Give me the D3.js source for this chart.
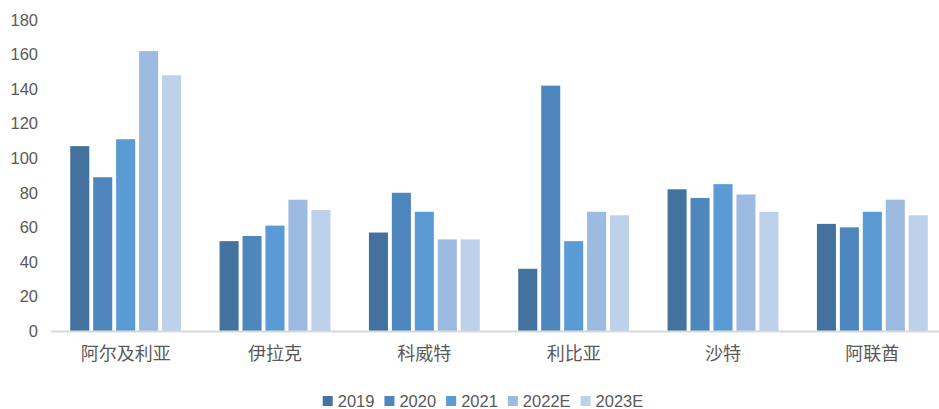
<!DOCTYPE html>
<html lang="zh">
<head>
<meta charset="UTF-8">
<script src="https://cdn.jsdelivr.net/npm/d3@7"></script>
<title>chart</title>
<style>
  body { margin: 0; background: #fff; }
  text { font-family: "Liberation Sans", Arial, sans-serif; fill: #595959; }
  .cat text { font-family: "Noto Sans CJK SC", sans-serif; }
</style>
</head>
<body>
<svg id="chart" width="939" height="409"></svg>
<script>
// data
var countries = ["阿尔及利亚", "伊拉克", "科威特", "利比亚", "沙特", "阿联酋"];
var years = ["2019", "2020", "2021", "2022E", "2023E"];
var v2019  = [107, 52, 57, 36, 82, 62];
var v2020  = [89, 55, 80, 142, 77, 60];
var v2021  = [111, 61, 69, 52, 85, 69];
var v2022E = [162, 76, 53, 69, 79, 76];
var v2023E = [148, 70, 53, 67, 69, 67];
var yTicks = [0, 20, 40, 60, 80, 100, 120, 140, 160, 180];
var colors = ["#43729f", "#4e87bd", "#5b9bd5", "#9dbae0", "#bed1eb"];

var series = [v2019, v2020, v2021, v2022E, v2023E];

var svg = d3.select("#chart");

var x0 = d3.scaleBand().domain(countries).range([51, 947]).paddingInner(0).paddingOuter(0);
var x1 = d3.scaleBand().domain(years).range([0, 115]).paddingInner(0.17).paddingOuter(0.09);
var y = d3.scaleLinear().domain([0, 180]).range([331, 20]);

// y tick labels (no axis line)
svg.append("g")
  .selectAll("text")
  .data(yTicks)
  .enter().append("text")
  .attr("x", 38)
  .attr("y", function(d){ return y(d); })
  .attr("dy", "0.35em")
  .attr("text-anchor", "end")
  .style("font-size", "16.5px")
  .text(function(d){ return d; });

// bars
var groups = svg.append("g")
  .selectAll("g")
  .data(countries)
  .enter().append("g")
  .attr("transform", function(d){ return "translate(" + (x0(d) + (x0.bandwidth() - 115) / 2) + ",0)"; });

groups.selectAll("rect")
  .data(function(d, i){ return years.map(function(yr, j){ return {yr: yr, v: series[j][i], j: j}; }); })
  .enter().append("rect")
  .attr("x", function(d){ return x1(d.yr); })
  .attr("width", x1.bandwidth())
  .attr("y", function(d){ return y(d.v); })
  .attr("height", function(d){ return y(0) - y(d.v); })
  .attr("fill", function(d){ return colors[d.j]; });

// x axis
var xAxis = svg.append("g")
  .attr("class", "cat")
  .attr("transform", "translate(0," + y(0) + ")")
  .call(d3.axisBottom(x0).tickSize(0).tickPadding(16));
xAxis.select(".domain").attr("stroke", "#d9d9d9").attr("stroke-width", 2).attr("d", "M51,0.5H939");
xAxis.selectAll("text").style("font-size", "18px").attr("fill", "#595959");

// legend
var legend = svg.append("g");
var items = legend.selectAll("g")
  .data(years)
  .enter().append("g");
items.append("rect")
  .attr("width", 10).attr("height", 10)
  .attr("y", 396)
  .attr("fill", function(d, i){ return colors[i]; });
items.append("text")
  .attr("x", 15)
  .attr("y", 401)
  .attr("dy", "0.35em")
  .style("font-size", "16.5px")
  .text(function(d){ return d; });
var pos = 0;
items.each(function(){
  var w = this.querySelector("text").getComputedTextLength();
  d3.select(this).attr("data-x", pos);
  pos += 15 + w + 10;
});
var total = pos - 10;
var start = 483 - total / 2;
items.attr("transform", function(){ return "translate(" + (start + (+this.getAttribute("data-x"))) + ",0)"; });
</script>
</body>
</html>
